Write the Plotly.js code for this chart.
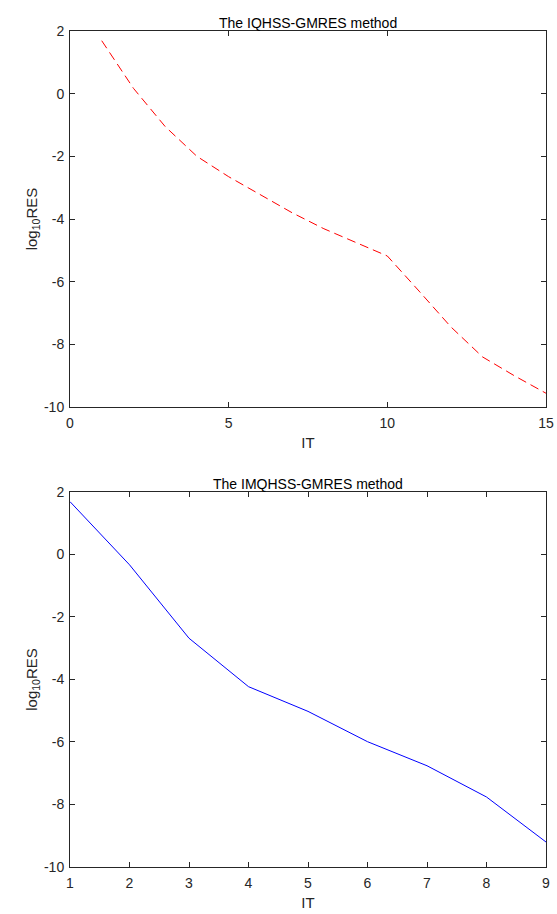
<!DOCTYPE html>
<html>
<head>
<meta charset="utf-8">
<script src="https://cdn.plot.ly/plotly-3.0.1.min.js"></script>
<style>html,body{margin:0;padding:0;background:#fff;}#chart{width:557px;height:914px;}</style>
</head>
<body>
<div id="chart"></div>
<script>
// Top panel: IQHSS-GMRES
const itTop = [1, 2, 3, 4, 5, 6, 7, 8, 9, 10, 11, 12, 13, 14, 15];
const resTop = [1.69, 0.17, -1.05, -2.0, -2.65, -3.23, -3.8, -4.31, -4.75, -5.18, -6.3, -7.44, -8.4, -9.0, -9.56];
// Bottom panel: IMQHSS-GMRES
const itBottom = [1, 2, 3, 4, 5, 6, 7, 8, 9];
const resBottom = [1.69, -0.33, -2.68, -4.23, -5.02, -5.99, -6.76, -7.76, -9.2];

const topTicks = [0, 5, 10, 15];
const bottomTicks = [1, 2, 3, 4, 5, 6, 7, 8, 9];
const yTicks = [-10, -8, -6, -4, -2, 0, 2];

const titleTop = 'The IQHSS-GMRES method';
const titleBottom = 'The IMQHSS-GMRES method';
const xLabel = 'IT';
const yLabel = 'log<sub>10</sub>RES';

const FONT = 'Liberation Sans, Arial, Helvetica, sans-serif';
const axisColor = '#262626';

function xAxis(range, ticks, anchor) {
  return {
    range: range, tickvals: ticks, ticktext: ticks.map(String),
    anchor: anchor, showgrid: false, zeroline: false,
    showline: true, linecolor: axisColor, linewidth: 1, mirror: 'ticks',
    ticks: 'inside', ticklen: 5, tickcolor: axisColor, tickwidth: 1,
    ticklabelstandoff: 3,
    tickfont: {family: FONT, size: 14, color: '#262626'},
    title: {text: xLabel, font: {family: FONT, size: 15, color: '#262626'}, standoff: 7}
  };
}
function yAxis(domain, anchor) {
  return {
    domain: domain, range: [-10, 2], tickvals: yTicks, ticktext: yTicks.map(String),
    anchor: anchor, showgrid: false, zeroline: false,
    showline: true, linecolor: axisColor, linewidth: 1, mirror: 'ticks',
    ticks: 'inside', ticklen: 5, tickcolor: axisColor, tickwidth: 1,
    ticklabelstandoff: 2,
    tickfont: {family: FONT, size: 14, color: '#262626'},
    title: {text: yLabel, font: {family: FONT, size: 15, color: '#262626'}, standoff: 2}
  };
}

const data = [
  {x: itTop, y: resTop, type: 'scatter', mode: 'lines', xaxis: 'x', yaxis: 'y',
   line: {color: '#ff0000', width: 1, dash: '9px,5px'}, showlegend: false, hoverinfo: 'skip'},
  {x: itBottom, y: resBottom, type: 'scatter', mode: 'lines', xaxis: 'x2', yaxis: 'y2',
   line: {color: '#0000ff', width: 1}, showlegend: false, hoverinfo: 'skip'}
];

const layout = {
  width: 557, height: 914,
  paper_bgcolor: '#ffffff', plot_bgcolor: '#ffffff',
  margin: {l: 70, r: 11, t: 31, b: 47},
  font: {family: FONT, color: '#262626'},
  xaxis: xAxis([0, 15], topTicks, 'y'),
  yaxis: yAxis([0.5502, 1], 'x'),
  xaxis2: xAxis([1, 9], bottomTicks, 'y2'),
  yaxis2: yAxis([0, 0.4486], 'x2'),
  annotations: [
    {text: titleTop, xref: 'x domain', yref: 'y domain', x: 0.5, y: 1, yshift: -2,
     xanchor: 'center', yanchor: 'bottom', showarrow: false,
     font: {family: FONT, size: 14, color: '#000000'}},
    {text: titleBottom, xref: 'x2 domain', yref: 'y2 domain', x: 0.5, y: 1, yshift: -2,
     xanchor: 'center', yanchor: 'bottom', showarrow: false,
     font: {family: FONT, size: 14, color: '#000000'}}
  ]
};

Plotly.newPlot('chart', data, layout, {staticPlot: true, displayModeBar: false});
</script>
</body>
</html>
